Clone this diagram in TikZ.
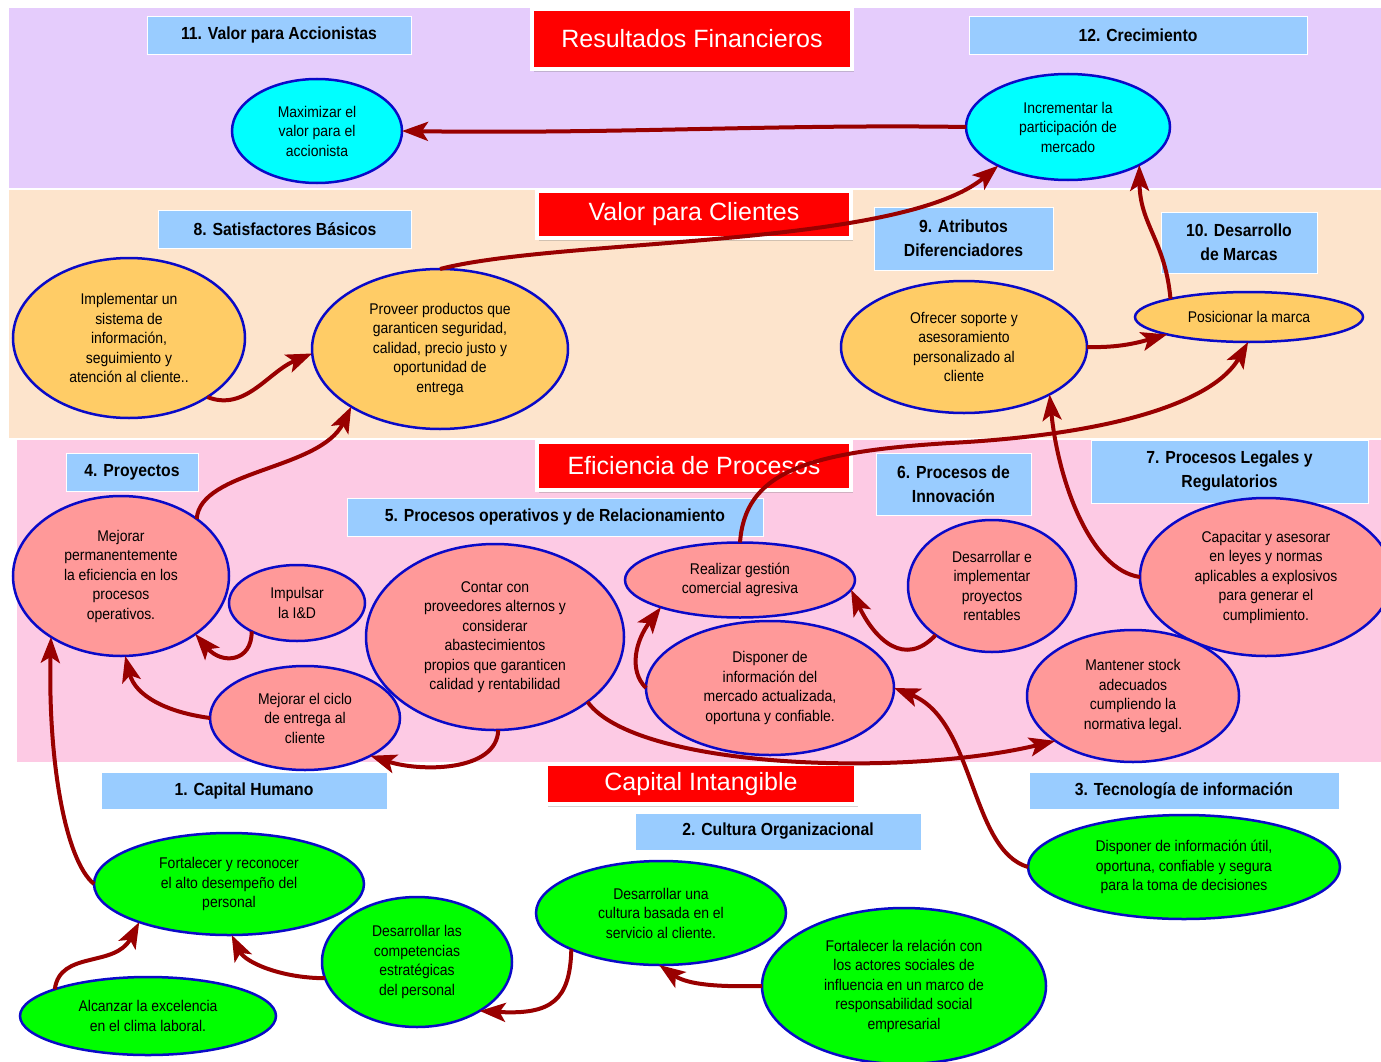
\documentclass[tikz,border=0pt]{standalone}
\usepackage{fontspec}
\setmainfont[FakeStretch=0.9]{Liberation Sans}
\newfontfamily\titlefont{Liberation Sans}
\usetikzlibrary{shapes.geometric,arrows.meta,shadows}

\definecolor{bandlila}{RGB}{229,204,252}
\definecolor{bandpeach}{RGB}{253,228,204}
\definecolor{bandpink}{RGB}{253,202,228}
\definecolor{labelblue}{RGB}{153,204,255}
\definecolor{objblue}{RGB}{10,10,200}
\definecolor{objcyan}{RGB}{0,255,255}
\definecolor{objorange}{RGB}{255,204,102}
\definecolor{objpink}{RGB}{255,153,153}
\definecolor{objgreen}{RGB}{0,255,0}
\definecolor{linkred}{RGB}{153,0,0}

\newcommand{\objfont}{\fontsize{15.5}{19.5}\selectfont}
\newcommand{\labelfont}{\bfseries\fontsize{17.5}{24}\selectfont}
\newcommand{\persfont}{\titlefont\fontsize{25}{30}\selectfont}

\tikzset{
  perspbox/.style={fill=red, draw=white, line width=4pt, text=white, font=\persfont,
    drop shadow={shadow xshift=2pt, shadow yshift=-3pt, opacity=.35}},
  catlabel/.style={fill=labelblue, draw=white, line width=0.8pt, font=\labelfont, align=center, inner sep=0pt},
  objective/.style={ellipse, draw=objblue, line width=2.5pt, align=center, inner sep=0pt, outer sep=0pt, font=\objfont},
  linkarrow/.style={draw=linkred, line width=4pt, -{Stealth[length=26pt,width=19pt,inset=6pt]}},
}

\begin{document}
\begin{tikzpicture}[x=1pt,y=-1pt]
  \useasboundingbox (0,0) rectangle (1381,1062);
  \fill[white] (0,0) rectangle (1381,1062);

  \fill[bandlila] (9,8) rectangle (1381,188);
  \fill[bandpeach] (9,190) rectangle (1381,438);
  \fill[bandpink] (17,440) rectangle (1381,762);

  \node[perspbox, minimum width=320, minimum height=60] (finan) at (692,39) {Resultados Financieros};
  \node[perspbox, minimum width=314, minimum height=47] (clien) at (694,214) {Valor para Clientes};
  \node[perspbox, minimum width=314, minimum height=48] (proce) at (694,466) {Eficiencia de Procesos};
  \node[perspbox, minimum width=310, minimum height=40] (intan) at (701,784) {Capital Intangible};

  \node[catlabel, minimum width=264, minimum height=38] (l11) at (279,35) {11. Valor para Accionistas};
  \node[catlabel, minimum width=338, minimum height=38] (l12) at (1138,35) {12. Crecimiento};
  \node[catlabel, minimum width=253, minimum height=38] (l8) at (285,229) {8. Satisfactores Básicos};
  \node[catlabel, minimum width=179, minimum height=63] (l9) at (963.5,238.5) {9. Atributos\\Diferenciadores};
  \node[catlabel, minimum width=156, minimum height=61] (l10) at (1239,242.5) {10. Desarrollo\\de Marcas};
  \node[catlabel, minimum width=132, minimum height=38] (l4) at (132,472) {4. Proyectos};
  \node[catlabel, minimum width=416, minimum height=38] (l5) at (555,517) {5. Procesos operativos y de Relacionamiento};
  \node[catlabel, minimum width=155, minimum height=62] (l6) at (953.5,484) {6. Procesos de\\Innovación};
  \node[catlabel, minimum width=277, minimum height=63] (l7) at (1229.5,471.5) {7. Procesos Legales y\\Regulatorios};
  \node[catlabel, minimum width=286, minimum height=37] (l1) at (244,790.5) {1. Capital Humano};
  \node[catlabel, minimum width=286, minimum height=37] (l2) at (778,831.5) {2. Cultura Organizacional};
  \node[catlabel, minimum width=310, minimum height=37] (l3) at (1184,790.5) {3. Tecnología de información};

  \node[objective, fill=objcyan, minimum width=170, minimum height=104] (maxi) at (317,131) {Maximizar el\\valor para el\\accionista};
  \node[objective, fill=objcyan, minimum width=204, minimum height=106] (incr) at (1068,127) {Incrementar la\\participación de\\mercado};

  \node[objective, fill=objorange, minimum width=232, minimum height=160] (impl) at (129,338) {Implementar un\\sistema de\\información,\\seguimiento y\\atención al cliente..};
  \node[objective, fill=objorange, minimum width=256, minimum height=160] (prov) at (440,349) {Proveer productos que\\garanticen seguridad,\\calidad, precio justo y\\oportunidad de\\entrega};
  \node[objective, fill=objorange, minimum width=246, minimum height=132] (ofre) at (964,347) {Ofrecer soporte y\\asesoramiento\\personalizado al\\cliente};
  \node[objective, fill=objorange, minimum width=228, minimum height=50] (posi) at (1249,317) {Posicionar la marca};

  \node[objective, fill=objpink, minimum width=216, minimum height=160] (mejp) at (121,576) {Mejorar\\permanentemente\\la eficiencia en los\\procesos\\operativos.};
  \node[objective, fill=objpink, minimum width=136, minimum height=76] (impu) at (297,603) {Impulsar\\la I\&D};
  \node[objective, fill=objpink, minimum width=258, minimum height=186] (cont) at (495,637) {Contar con\\proveedores alternos y\\considerar\\abastecimientos\\propios que garanticen\\calidad y rentabilidad};
  \node[objective, fill=objpink, minimum width=230, minimum height=75] (real) at (740,580) {Realizar gestión\\comercial agresiva};
  \node[objective, fill=objpink, minimum width=248, minimum height=134] (disp) at (770,688) {Disponer de\\información del\\mercado actualizada,\\oportuna y confiable.};
  \node[objective, fill=objpink, minimum width=168, minimum height=132] (deim) at (992,586) {Desarrollar e\\implementar\\proyectos\\rentables};
  \node[objective, fill=objpink, minimum width=252, minimum height=158] (capa) at (1266,577) {Capacitar y asesorar\\en leyes y normas\\aplicables a explosivos\\para generar el\\cumplimiento.};
  \node[objective, fill=objpink, minimum width=212, minimum height=132] (mant) at (1133,696) {Mantener stock\\adecuados\\cumpliendo la\\normativa legal.};
  \node[objective, fill=objpink, minimum width=190, minimum height=104] (mejc) at (305,718) {Mejorar el ciclo\\de entrega al\\cliente};

  \node[objective, fill=objgreen, minimum width=270, minimum height=102] (fyr) at (229,884) {Fortalecer y reconocer\\el alto desempeño del\\personal};
  \node[objective, fill=objgreen, minimum width=190, minimum height=130] (comp) at (417,962) {Desarrollar las\\competencias\\estratégicas\\del personal};
  \node[objective, fill=objgreen, minimum width=256, minimum height=78] (alca) at (148,1016) {Alcanzar la excelencia\\en el clima laboral.};
  \node[objective, fill=objgreen, minimum width=250, minimum height=104] (cult) at (661,913) {Desarrollar una\\cultura basada en el\\servicio al cliente.};
  \node[objective, fill=objgreen, minimum width=284, minimum height=156] (frel) at (904,986) {Fortalecer la relación con\\los actores sociales de\\influencia en un marco de\\responsabilidad social\\empresarial};
  \node[objective, fill=objgreen, minimum width=312, minimum height=104] (util) at (1184,867) {Disponer de información útil,\\oportuna, confiable y segura\\para la toma de decisiones};

  \draw[linkarrow] (incr.west) .. controls (780,124) and (620,134) .. (maxi.east);
  \draw[linkarrow] (prov.north) .. controls (560,238) and (900,248) .. (incr.209);
  \draw[linkarrow] (posi.167) .. controls (1165,240) and (1140,225) .. (incr.332);
  \draw[linkarrow] (impl.323) .. controls (245,412) and (268,372) .. (prov.182);
  \draw[linkarrow] (mejp.37) .. controls (200,470) and (320,470) .. (prov.213);
  \draw[linkarrow] (ofre.east) .. controls (1120,348) and (1140,342) .. (posi.192);
  \draw[linkarrow] (real.north) .. controls (745,475) and (800,452) .. (950,443)
    .. controls (1120,434) and (1215,400) .. (posi.268);
  \draw[linkarrow] (capa.west) .. controls (1090,570) and (1058,480) .. (ofre.331);
  \draw[linkarrow] (impu.212) .. controls (252,662) and (222,665) .. (mejp.322);
  \draw[linkarrow] (mejc.west) .. controls (165,712) and (135,695) .. (mejp.273);
  \draw[linkarrow] (cont.272) .. controls (497,772) and (420,772) .. (mejc.330);
  \draw[linkarrow] (cont.325) .. controls (635,768) and (900,778) .. (mant.210);
  \draw[linkarrow] (disp.west) .. controls (628,670) and (636,640) .. (real.199);
  \draw[linkarrow] (deim.221) .. controls (905,668) and (875,640) .. (real.355);
  \draw[linkarrow] (util.west) .. controls (970,850) and (975,720) .. (disp.east);
  \draw[linkarrow] (fyr.west) .. controls (65,860) and (48,760) .. (mejp.221);
  \draw[linkarrow] (alca.164) .. controls (60,950) and (115,968) .. (fyr.203);
  \draw[linkarrow] (comp.190) .. controls (280,978) and (245,962) .. (fyr.273);
  \draw[linkarrow] (cult.202) .. controls (570,1000) and (552,1015) .. (comp.322);
  \draw[linkarrow] (frel.west) .. controls (720,987) and (688,985) .. (cult.268);
\end{tikzpicture}
\end{document}
